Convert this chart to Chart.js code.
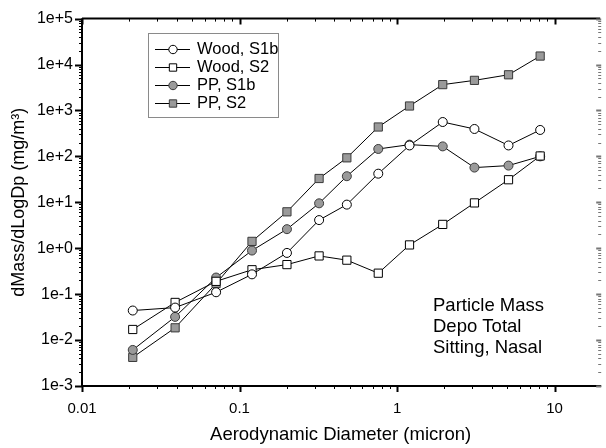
<!DOCTYPE html>
<html>
<head>
<meta charset="utf-8">
<script src="https://cdn.jsdelivr.net/npm/chart.js@4"></script>
<style>
  html, body { margin: 0; padding: 0; background: #fff; }
  #wrap { width: 606px; height: 448px; }
</style>
</head>
<body>
<div id="wrap"><canvas id="myChart" width="606" height="448"></canvas></div>
<script>
const diameters = [0.021, 0.039, 0.071, 0.12, 0.2, 0.32, 0.48, 0.76, 1.2, 1.95, 3.1, 5.1, 8.1];
const woodS1b = [0.044, 0.051, 0.11, 0.27, 0.79, 4.1, 8.9, 42, 173, 560, 395, 173, 376];
const woodS2 = [0.017, 0.066, 0.19, 0.34, 0.44, 0.68, 0.55, 0.286, 1.18, 3.3, 9.7, 31, 102];
const ppS1b = [0.0061, 0.032, 0.23, 0.89, 2.6, 9.5, 37, 145, 180, 165, 57, 63, 100];
const ppS2 = [0.0042, 0.0185, 0.17, 1.41, 6.2, 33, 93, 436, 1250, 3650, 4520, 5980, 15300];

const xTicks = [0.01, 0.1, 1, 10];
const yTicks = [1e-3, 1e-2, 1e-1, 1e0, 1e1, 1e2, 1e3, 1e4, 1e5];
const noteLines = ['Particle Mass', 'Depo Total', 'Sitting, Nasal'];

const FONT = '"Liberation Sans", Arial, sans-serif';
const GREY = '#9a9a9a';

function toPoints(ys) {
  return diameters.map((x, i) => ({ x: x, y: ys[i] }));
}

function series(label, ys, style, fill) {
  return {
    label: label,
    data: toPoints(ys),
    showLine: true,
    borderColor: '#000',
    borderWidth: 1,
    pointStyle: style,
    pointRadius: style === 'rect' ? 5.8 : 4.5,
    pointBackgroundColor: fill,
    pointBorderColor: fill === '#fff' ? '#000' : '#3a3a3a',
    pointBorderWidth: 1,
  };
}

const datasets = [
  series('Wood, S1b', woodS1b, 'circle', '#fff'),
  series('Wood, S2', woodS2, 'rect', '#fff'),
  series('PP, S1b', ppS1b, 'circle', GREY),
  series('PP, S2', ppS2, 'rect', GREY),
];

// frame, inward/outward ticks, legend box and note
const decor = {
  id: 'decor',
  afterDraw(chart) {
    const { ctx, chartArea: a } = chart;
    const xs = chart.scales.x, ys = chart.scales.y;
    ctx.save();
    ctx.strokeStyle = '#000';

    // axis lines
    ctx.lineWidth = 2;
    ctx.beginPath();
    ctx.moveTo(a.left, a.top); ctx.lineTo(a.right + 1, a.top);
    ctx.moveTo(a.left, a.top); ctx.lineTo(a.left, a.bottom);
    ctx.moveTo(a.left - 1, a.bottom); ctx.lineTo(a.right + 2, a.bottom);
    ctx.stroke();

    // x ticks
    for (let e = -2; e <= 1; e++) {
      for (let m = 1; m <= 9; m++) {
        const v = m * Math.pow(10, e);
        if (v > xs.max) continue;
        const px = Math.round(xs.getPixelForValue(v)) + 0.5;
        const major = m === 1;
        const len = major ? 6 : 3;
        ctx.lineWidth = major ? 2 : 1;
        ctx.beginPath();
        ctx.moveTo(px, a.bottom); ctx.lineTo(px, a.bottom + len);
        ctx.moveTo(px, a.top); ctx.lineTo(px, a.top + len);
        ctx.stroke();
      }
    }
    // y ticks
    for (let e = -3; e <= 4; e++) {
      for (let m = 1; m <= 10; m++) {
        if (m === 10 && e !== 4) continue;
        const v = m * Math.pow(10, e);
        const py = Math.round(ys.getPixelForValue(v)) + 0.5;
        const major = m === 1 || m === 10;
        const len = major ? 7 : 3;
        ctx.lineWidth = major ? 2 : 1;
        ctx.strokeStyle = '#000';
        ctx.beginPath();
        ctx.moveTo(a.left, py); ctx.lineTo(a.left - len, py);
        ctx.stroke();
        ctx.strokeStyle = '#777';
        ctx.beginPath();
        ctx.moveTo(a.right + 2, py); ctx.lineTo(a.right + 2 - (major ? 5 : 3), py);
        ctx.stroke();
      }
    }

    // legend
    const lx = 148, ly = 33, lw = 130, lh = 84;
    ctx.strokeStyle = '#8a8a8a';
    ctx.lineWidth = 1;
    ctx.strokeRect(lx + 0.5, ly + 0.5, lw, lh);
    const rows = [49, 67, 85, 103];
    ctx.font = '16.5px ' + FONT;
    ctx.textBaseline = 'middle';
    ctx.textAlign = 'left';
    chart.data.datasets.forEach((ds, i) => {
      const y = rows[i] + 0.5;
      ctx.strokeStyle = '#000';
      ctx.lineWidth = 1;
      ctx.beginPath();
      ctx.moveTo(155, y); ctx.lineTo(190, y);
      ctx.stroke();
      ctx.fillStyle = ds.pointBackgroundColor;
      ctx.strokeStyle = ds.pointBorderColor;
      Chart.helpers.drawPoint(ctx, {
        pointStyle: ds.pointStyle,
        radius: ds.pointStyle === 'rect' ? 5.2 : 4.2,
        borderWidth: 1,
        rotation: 0,
      }, 173, y);
      ctx.fillStyle = '#000';
      ctx.fillText(ds.label, 197, rows[i]);
    });

    // note
    ctx.font = '18.5px ' + FONT;
    ctx.fillStyle = '#000';
    noteLines.forEach((t, i) => ctx.fillText(t, 433, 306 + i * 21));

    ctx.restore();
  }
};

new Chart(document.getElementById('myChart'), {
  type: 'scatter',
  data: { datasets: datasets },
  options: {
    responsive: false,
    animation: false,
    layout: { padding: { top: 13, right: 2, left: 0, bottom: 0 } },
    plugins: {
      legend: { display: false },
      tooltip: { enabled: false },
    },
    scales: {
      x: {
        type: 'logarithmic',
        min: 0.01,
        max: 19.2,
        afterFit: (s) => { s.height = 62; },
        afterBuildTicks: (s) => { s.ticks = xTicks.map((v) => ({ value: v })); },
        grid: { display: false, drawTicks: false },
        border: { display: false },
        ticks: {
          autoSkip: false,
          maxRotation: 0,
          padding: 14,
          color: '#000',
          font: { family: FONT, size: 15 },
          callback: (v) => String(v),
        },
        title: {
          display: true,
          text: 'Aerodynamic Diameter (micron)',
          color: '#000',
          font: { family: FONT, size: 18.5 },
          padding: { top: 0, bottom: 2 },
        },
      },
      y: {
        type: 'logarithmic',
        min: 1e-3,
        max: 1e5,
        afterFit: (s) => { s.width = 82; },
        afterBuildTicks: (s) => { s.ticks = yTicks.map((v) => ({ value: v })); },
        grid: { display: false, drawTicks: false },
        border: { display: false },
        ticks: {
          autoSkip: false,
          padding: 9,
          color: '#000',
          font: { family: FONT, size: 16 },
          callback: (v) => {
            const e = Math.round(Math.log10(v));
            return '1e' + (e >= 0 ? '+' : '-') + Math.abs(e);
          },
        },
        title: {
          display: true,
          text: 'dMass/dLogDp (mg/m³)',
          color: '#000',
          font: { family: FONT, size: 18 },
          padding: { top: 8, bottom: 0 },
        },
      },
    },
  },
  plugins: [decor],
});
</script>
</body>
</html>
